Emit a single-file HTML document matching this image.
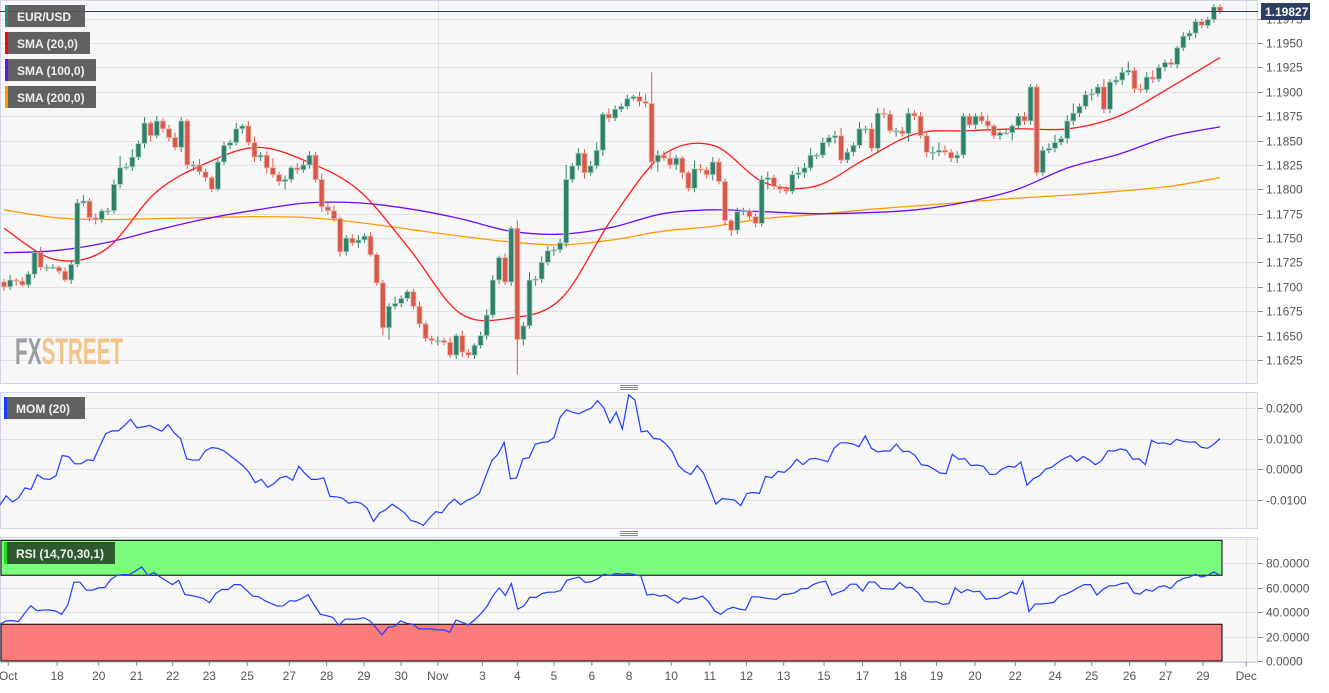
<!DOCTYPE html>
<html><head><meta charset="utf-8">
<style>
html,body{margin:0;padding:0;background:#fff;}
body{width:1329px;height:688px;overflow:hidden;font-family:"Liberation Sans",sans-serif;}
svg text{font-family:"Liberation Sans",sans-serif;}
</style></head>
<body>
<svg id="chart" width="1329" height="688" xmlns="http://www.w3.org/2000/svg">
  <rect x="0" y="0" width="1329" height="688" fill="#ffffff"/>
  <rect x="0.5" y="0.5" width="1257" height="383" fill="#f7f7f7" stroke="#cdd5e6"/>
  <rect x="0.5" y="392.5" width="1257" height="136" fill="#f7f7f7" stroke="#cdd5e6"/>
  <rect x="0.5" y="537.5" width="1257" height="125" fill="#f7f7f7" stroke="#cdd5e6"/>
  <g id="grid"></g>
  <g id="bands"></g>
  <text x="15" y="364" font-size="37" font-weight="bold" transform="translate(15 364) scale(0.56 1) translate(-15 -364)"><tspan fill="#9a9da2">FX</tspan><tspan fill="#f4c38a">STREET</tspan></text>
  <g id="smas"></g>
  <g id="candles"></g>
  <g id="indicators"></g>
  <g id="axes"></g>
  <line x1="0" x2="1258" y1="11.5" y2="11.5" stroke="#2c3e63" stroke-width="1"/>
  <rect x="1261" y="3" width="49" height="17" fill="#2c3e63"/>
  <text x="1265" y="16" font-size="12" font-weight="bold" fill="#fff">1.19827</text>
  <g stroke="#888"><line x1="620" x2="638" y1="385.5" y2="385.5"/><line x1="620" x2="638" y1="387.5" y2="387.5"/><line x1="620" x2="638" y1="389.5" y2="389.5"/></g>
  <g stroke="#888"><line x1="620" x2="638" y1="531.5" y2="531.5"/><line x1="620" x2="638" y1="533.5" y2="533.5"/><line x1="620" x2="638" y1="535.5" y2="535.5"/></g>
  <g><rect x="5" y="5" width="80" height="22" fill="#555" opacity="0.93"/><rect x="5" y="5" width="3" height="22" fill="#2e8b72"/><text x="17" y="21" font-size="12" font-weight="bold" fill="#eee">EUR/USD</text></g>
  <g><rect x="5" y="32" width="85" height="22" fill="#555" opacity="0.93"/><rect x="5" y="32" width="3" height="22" fill="#ff0000"/><text x="17" y="48" font-size="12" font-weight="bold" fill="#eee">SMA (20,0)</text></g>
  <g><rect x="5" y="59" width="91" height="22" fill="#555" opacity="0.93"/><rect x="5" y="59" width="3" height="22" fill="#6a0dff"/><text x="17" y="75" font-size="12" font-weight="bold" fill="#eee">SMA (100,0)</text></g>
  <g><rect x="5" y="86" width="91" height="22" fill="#555" opacity="0.93"/><rect x="5" y="86" width="3" height="22" fill="#ff9900"/><text x="17" y="102" font-size="12" font-weight="bold" fill="#eee">SMA (200,0)</text></g>
  <g><rect x="4" y="397" width="81" height="22" fill="#555" opacity="0.93"/><rect x="4" y="397" width="3" height="22" fill="#1a3cff"/><text x="16" y="413" font-size="12" font-weight="bold" fill="#eee">MOM (20)</text></g>
  <g><rect x="4" y="542" width="111" height="22" fill="#2f5a2f"/><rect x="4" y="542" width="3" height="22" fill="#22dd22"/><text x="16" y="558" font-size="12" font-weight="bold" fill="#eee">RSI (14,70,30,1)</text></g>
</svg>
<script>
const closes=[1.1700,1.1707,1.1706,1.1702,1.1713,1.1735,1.1720,1.1720,1.1720,1.1716,1.1707,1.1723,1.1786,1.1788,1.1771,1.1769,1.1778,1.1778,1.1805,1.1822,1.1823,1.1833,1.1847,1.1868,1.1855,1.1870,1.1862,1.1853,1.1843,1.1870,1.1825,1.1825,1.1818,1.1812,1.1800,1.1828,1.1845,
1.1848,1.1862,1.1865,1.1848,1.1833,1.1835,1.1822,1.1815,1.1808,1.1810,1.1822,1.1820,1.1825,1.1835,1.1810,1.1782,1.1778,1.1770,1.1736,1.1750,1.1745,1.1748,1.1752,1.1733,1.1704,1.1658,1.1680,1.1683,1.1688,1.1695,1.1680,1.1662,1.1647,1.1645,1.1645,
1.1643,1.1630,1.1650,1.1633,1.1630,1.1640,1.1650,1.1671,1.1707,1.1730,1.1705,1.1760,1.1646,1.1660,1.1707,1.1708,1.1725,1.1737,1.1738,1.1745,1.1810,1.1824,1.1837,1.1817,1.1824,1.1840,1.1877,1.1873,1.1882,1.1885,1.1893,1.1895,1.1890,1.1888,1.1828,1.1835,
1.1832,1.1825,1.1832,1.1817,1.1801,1.1821,1.1820,1.1815,1.1828,1.1808,1.1768,1.1758,1.1777,1.1778,1.1772,1.1765,1.1810,1.1812,1.1803,1.1800,1.1798,1.1815,1.1817,1.1822,1.1835,1.1835,1.1848,1.1853,1.1855,1.1830,1.1838,1.1845,1.1862,1.1862,1.1842,1.1878,1.1877,1.1860,1.1860,1.1857,1.1878,1.1875,1.1855,1.1838,1.1838,1.1840,1.1838,
1.1832,1.1835,1.1875,1.1866,1.1875,1.1870,1.1865,1.1855,1.1858,1.1858,1.1865,1.1875,1.1870,1.1905,1.1817,1.1840,1.1842,1.1848,1.1852,1.1870,1.1878,1.1885,1.1897,1.1898,1.1905,1.1882,1.1910,1.1912,1.1920,1.1922,1.1903,1.1902,1.1915,1.1913,1.1925,1.1930,1.1928,1.1945,1.1957,1.1960,1.1972,1.1968,1.1974,1.1987,1.19827];
const wickUp=[3,5,2,4,3,2,6,3,3,2,4,3,4,6,3,4,2,3,5,12,4,8,3,6,2,5,3,4,5,4,2,4,6,3,2,3,4,
3,6,2,5,6,3,4,10,3,4,2,5,4,4,3,6,4,5,2,3,4,5,3,4,2,3,3,7,3,2,3,5,2,3,4,
3,5,2,5,3,2,4,6,5,2,4,2,8,4,8,3,6,5,3,4,15,3,5,4,5,8,2,6,4,3,4,2,5,8,32,5,
4,6,3,2,2,8,5,3,5,4,3,2,4,3,2,3,4,6,3,2,3,4,6,5,7,2,5,3,5,8,4,3,7,3,6,5,5,4,3,4,5,3,
4,5,6,8,5,3,4,3,3,3,4,6,2,2,4,2,3,4,3,3,4,5,8,3,6,10,3,4,5,3,8,3,4,5,9,3,5,5,7,3,3,4,2,4,3];
const wickDn=[4,3,5,2,3,4,3,4,2,3,2,4,3,3,4,5,3,4,3,4,2,4,3,5,6,3,4,4,3,5,4,6,3,4,3,2,3,
4,3,5,3,5,4,6,3,4,8,3,4,3,4,3,5,4,3,5,4,3,5,3,2,3,8,12,3,4,3,3,4,3,4,5,
3,3,4,5,3,4,3,4,3,4,3,4,36,6,3,6,4,3,5,3,4,3,4,6,3,3,6,4,3,3,3,2,5,4,8,10,
3,4,5,6,3,4,3,4,6,3,5,6,4,3,3,4,3,10,3,4,3,3,4,5,3,4,3,4,6,4,3,4,3,4,3,5,4,3,6,3,8,4,3,
5,8,4,3,4,5,3,3,4,3,4,3,4,2,8,3,4,4,3,3,3,4,3,5,4,4,3,6,3,4,4,3,5,3,4,3,3,4,3,4,3,4,3,4,5];
const sma20=[1.1760,1.1728,1.1738,1.1797,1.1827,1.1843,1.1828,1.1799,1.1739,1.1673,1.1668,1.1688,1.1770,1.1835,1.1845,1.1807,1.1803,1.1831,1.1857,1.1860,1.1862,1.1862,1.1875,1.1904,1.1935];
const sma100=[1.1735,1.1737,1.1745,1.1758,1.1770,1.1779,1.1786,1.1786,1.1780,1.1770,1.1757,1.1754,1.1761,1.1775,1.1779,1.1777,1.1775,1.1776,1.1779,1.1787,1.1800,1.1822,1.1836,1.1854,1.1864];
const sma200=[1.1779,1.1771,1.1769,1.1770,1.1771,1.1772,1.1771,1.1766,1.1759,1.1752,1.1746,1.1743,1.1748,1.1757,1.1762,1.1770,1.1774,1.1779,1.1783,1.1787,1.1791,1.1794,1.1798,1.1803,1.1812];
const mom=[-0.0118,-0.0088,-0.0108,-0.0094,-0.0062,-0.0067,-0.0019,-0.0032,-0.0034,-0.0022,0.0044,0.0041,0.0017,0.0017,0.0030,0.0028,0.0073,0.0116,0.0125,0.0125,0.0143,0.0163,0.0135,0.0138,0.0143,0.0133,0.0124,0.0146,0.0118,0.0100,0.0033,0.0029,0.0030,0.0060,0.0070,0.0068,0.0059,0.0043,0.0028,0.0011,-0.0011,-0.0045,-0.0034,-0.0060,-0.0048,-0.0029,-0.0024,-0.0037,0.0009,-0.0015,-0.0034,-0.0034,-0.0029,-0.0090,-0.0091,-0.0095,-0.0112,-0.0108,-0.0112,-0.0129,-0.0172,-0.0144,-0.0133,-0.0115,-0.0129,-0.0144,-0.0169,-0.0174,-0.0185,-0.0161,-0.0140,-0.0144,-0.0116,-0.0099,-0.0117,-0.0103,-0.0094,-0.0080,-0.0026,0.0027,0.0049,0.0087,-0.0032,-0.0029,0.0033,0.0037,0.0081,0.0087,0.0089,0.0103,0.0170,0.0194,0.0186,0.0181,0.0191,0.0200,0.0224,0.0200,
0.0151,0.0186,0.0131,0.0243,0.0226,0.0122,0.0125,0.0100,0.0098,0.0082,0.0057,0.0011,-0.0008,-0.0018,0.0011,-0.0013,-0.0062,-0.0115,-0.0097,-0.0099,-0.0102,-0.0120,-0.0080,-0.0077,-0.0080,-0.0024,-0.0029,-0.0008,-0.0011,0.0006,0.0032,0.0014,0.0032,0.0035,0.0030,0.0024,0.0068,0.0086,0.0086,0.0082,0.0073,0.0109,0.0068,0.0056,0.0059,0.0059,0.0082,0.0057,0.0058,0.0045,0.0014,0.0011,0.0000,-0.0013,-0.0015,0.0048,0.0032,0.0034,0.0011,0.0013,0.0009,-0.0018,-0.0017,0.0000,0.0009,0.0006,0.0023,-0.0053,-0.0032,-0.0022,0.0000,0.0006,0.0022,0.0035,0.0044,0.0025,0.0041,0.0030,0.0014,0.0028,0.0060,0.0059,0.0066,0.0061,0.0032,0.0033,0.0014,0.0094,0.0084,0.0086,0.0080,0.0097,0.0091,0.0088,0.0089,0.0071,0.0068,0.0081,0.0100];
const rsi=[30.0,32.7,33.0,32.2,38.9,45.1,41.1,41.6,41.6,40.8,38.1,45.7,64.3,64.3,57.8,57.8,59.7,60.0,66.5,70.0,70.5,70.5,73.5,76.8,70.0,72.2,68.6,65.4,62.4,65.9,54.3,53.5,52.4,51.1,47.6,55.1,58.4,58.4,62.4,62.4,57.8,53.0,52.4,49.2,47.0,44.9,45.1,49.2,48.9,51.1,54.1,45.7,38.1,37.0,35.7,29.2,34.1,34.1,34.1,35.4,33.0,27.3,21.4,27.6,28.1,32.7,30.8,30.0,26.2,26.2,26.2,25.4,25.4,23.5,33.5,31.6,29.5,33.5,38.4,44.3,53.2,59.7,53.5,63.2,42.4,44.9,51.9,51.9,55.1,56.2,56.2,57.6,65.9,67.3,68.6,64.1,64.9,67.0,70.8,70.0,
71.4,70.8,71.4,70.5,69.5,53.8,54.6,53.0,53.8,50.5,47.3,51.6,50.3,51.1,53.0,48.4,40.8,38.1,42.2,43.8,42.4,41.6,52.4,52.4,51.6,50.8,50.3,54.3,54.6,55.7,58.9,59.2,62.4,64.3,65.1,53.8,55.9,57.8,62.7,62.7,57.0,64.6,64.3,59.2,58.9,58.6,64.1,60.0,60.0,55.7,48.9,48.1,48.4,46.2,46.8,59.7,55.7,58.4,56.5,57.0,50.3,51.1,51.1,53.8,56.5,54.6,65.1,40.3,46.5,46.5,47.0,47.8,53.0,54.6,57.0,60.0,62.4,62.4,53.8,58.4,61.4,61.4,63.2,63.8,55.7,54.6,58.4,57.0,60.5,61.4,59.2,64.6,67.3,68.4,70.8,68.6,70.0,72.7,70.0];
const priceTicks=[1.1625,1.1650,1.1675,1.1700,1.1725,1.1750,1.1775,1.1800,1.1825,1.1850,1.1875,1.1900,1.1925,1.1950,1.1975];
const momTicks=[0.02,0.01,0,-0.01];
const rsiTicks=[0,20,40,60,80];
const dateLabels=["Oct","18","20","21","22","23","25","27","28","29","30","Nov","3","4","5","6","8","10","11","12","13","15","17","18","19","20","22","24","25","26","27","29","Dec"];
const dateIdx=[0.7,8.7,15.5,21.7,27.6,33.6,39.8,46.7,52.8,58.9,65,71,78.3,84,90,96.2,102.3,109.2,115.5,121.5,127.6,134.2,140.5,146.7,152.6,158.9,165.5,172,178,184.2,190.1,196.2,203.3];
const monthIdx=[71,203.3];

const NS="http://www.w3.org/2000/svg";
const X0=4,X1=1220;
const step=(X1-X0)/(closes.length-1);
const xIdx=i=>X0+i*step;
const yP=p=>43+(1.1950-p)*9753;
const yM=v=>469-v*3050;
const yR=r=>661-r*1.225;
function mk(tag,attrs,parent){const e=document.createElementNS(NS,tag);for(const k in attrs)e.setAttribute(k,attrs[k]);document.getElementById(parent).appendChild(e);return e;}

// grid
priceTicks.forEach(t=>{const y=Math.round(yP(t))+0.5;if(y>2&&y<383){const g=mk('line',{x1:1,x2:1257,y1:y,y2:y,stroke:'#e2e2e2'},'grid');}});
momTicks.forEach(t=>{const y=Math.round(yM(t))+0.5;const g=mk('line',{x1:1,x2:1257,y1:y,y2:y,stroke:'#e2e2e2'},'grid');});
rsiTicks.concat([100]).forEach(t=>{const y=Math.round(yR(t))+0.5;if(y>538){const g=mk('line',{x1:1,x2:1257,y1:y,y2:y,stroke:'#e2e2e2'},'grid');}});
monthIdx.forEach(m=>{const x=Math.round(xIdx(m))+0.5;[[1,383],[393,528],[538,662]].forEach(r=>{const g=mk('line',{x1:x,x2:x,y1:r[0],y2:r[1],stroke:'#e2e2e2'},'grid');});});

// RSI bands
const bx=xIdx(closes.length-1)+2;
const gb=mk('rect',{x:1,y:yR(98.5),width:bx-1,height:yR(70)-yR(98.5),fill:'#7bfb7b',stroke:'#000','stroke-width':1},'bands');

const rb=mk('rect',{x:1,y:yR(30),width:bx-1,height:yR(0)-yR(30),fill:'#fb7b7b',stroke:'#000','stroke-width':1},'bands');


// SMAs (smooth Catmull-Rom through sampled values)
function smaPath(arr,color,name){
  const n=arr.length;
  const P=arr.map((v,k)=>[xIdx(k*(closes.length-1)/(n-1)),yP(v)]);
  let d='M'+P[0][0].toFixed(1)+','+P[0][1].toFixed(1);
  for(let i=0;i<n-1;i++){
    const p0=P[Math.max(0,i-1)],p1=P[i],p2=P[i+1],p3=P[Math.min(n-1,i+2)];
    const c1=[p1[0]+(p2[0]-p0[0])/6,p1[1]+(p2[1]-p0[1])/6];
    const c2=[p2[0]-(p3[0]-p1[0])/6,p2[1]-(p3[1]-p1[1])/6];
    d+=' C'+c1[0].toFixed(1)+','+c1[1].toFixed(1)+' '+c2[0].toFixed(1)+','+c2[1].toFixed(1)+' '+p2[0].toFixed(1)+','+p2[1].toFixed(1);
  }
  const p=mk('path',{d:d,fill:'none',stroke:color,'stroke-width':1.3},'smas');
  
  
}
smaPath(sma200,'#ff9900','sma200-line');
smaPath(sma100,'#6a0dff','sma100-line');
smaPath(sma20,'#ff1a1a','sma20-line');

// candles
closes.forEach((c,i)=>{
  const o=i===0?1.1705:closes[i-1];
  const up=c>=o;
  const top=Math.max(o,c),bot=Math.min(o,c);
  const hi=top+(wickUp[i]||3)*0.0001,lo=bot-(wickDn[i]||3)*0.0001;
  const x=xIdx(i);
  const col=up?'#2e8068':'#d8594a';
  const w=mk('line',{x1:x.toFixed(1),x2:x.toFixed(1),y1:yP(hi).toFixed(1),y2:yP(lo).toFixed(1),stroke:col,'stroke-width':1},'candles');
  
  
  const h=Math.max(1.2,yP(bot)-yP(top));
  const b=mk('rect',{x:(x-2.5).toFixed(1),y:yP(top).toFixed(1),width:5,height:h.toFixed(1),fill:col,stroke:up?'#a9cfc2':'#efb3aa','stroke-width':0.8},'candles');
  
  
});

// indicators
function indLine(arr,yf,name){const n=arr.length;const st=(X1-0)/(n-1);const pts=arr.map((v,k)=>(k*st).toFixed(1)+','+yf(v).toFixed(1));const p=mk('polyline',{points:pts.join(' '),fill:'none',stroke:'#1f3dff','stroke-width':1.2},'indicators');}
indLine(mom,yM,'mom-line');
indLine(rsi,yR,'rsi-line');

// axes
function axisLabel(y,txt,name){const t=mk('line',{x1:1258,x2:1263,y1:y+0.5,y2:y+0.5,stroke:'#888'},'axes');const l=mk('text',{x:1266,y:y+4.5,'font-size':12,fill:'#555'},'axes');l.textContent=txt;}
priceTicks.forEach(t=>{const y=Math.round(yP(t));if(y>14&&y<380)axisLabel(y,t.toFixed(4),'price-axis-label');});
momTicks.forEach(t=>axisLabel(Math.round(yM(t)),t.toFixed(4),'mom-axis-label'));
rsiTicks.forEach(t=>axisLabel(Math.round(yR(t)),t.toFixed(4),'rsi-axis-label'));
dateLabels.forEach((d,k)=>{const x=xIdx(dateIdx[k]);const tk=mk('line',{x1:x,x2:x,y1:662,y2:666,stroke:'#888'},'axes');const t=mk('text',{x:x,y:680,'font-size':12,fill:'#555','text-anchor':'middle'},'axes');t.textContent=d;});
</script>
</body></html>
